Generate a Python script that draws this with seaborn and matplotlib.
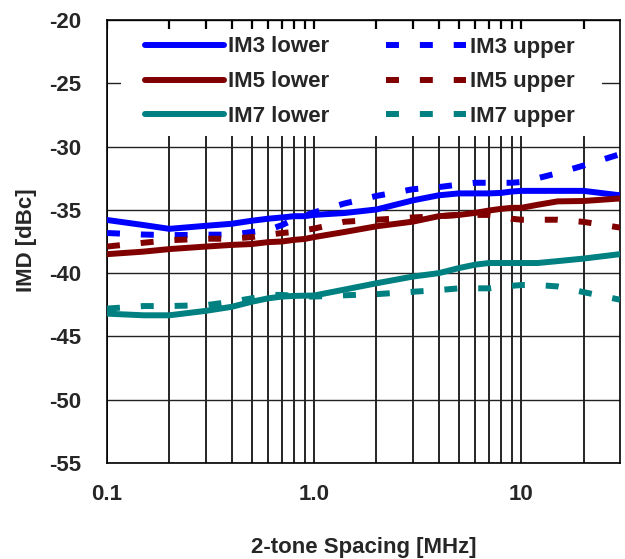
import matplotlib
matplotlib.use("Agg")
import matplotlib.pyplot as plt
import matplotlib.patches as mpatches
from matplotlib.ticker import FixedLocator, NullFormatter, FixedFormatter
import seaborn as sns
import numpy as np
import pandas as pd

# ---------------- data ----------------
spacing_mhz = [0.1, 0.15, 0.2, 0.3, 0.4, 0.5, 0.6, 0.7, 0.8, 0.9, 1.0, 1.4,
               2, 3, 4, 5, 6, 7, 8, 9, 10, 12, 15, 20, 30]

im3_lower = [-35.8, -36.2, -36.5, -36.26, -36.1, -35.86, -35.7, -35.6, -35.5, -35.5, -35.4, -35.25,
             -34.97, -34.25, -33.85, -33.7, -33.7, -33.7, -33.66, -33.55, -33.5, -33.5, -33.5, -33.5, -33.85]
im3_upper = [-36.83, -36.95, -37.0, -36.96, -36.96, -36.75, -36.6, -36.2, -35.75, -35.45, -35.2, -34.5,
             -33.9, -33.37, -33.2, -33.0, -32.86, -32.86, -32.86, -32.86, -32.8, -32.5, -32.1, -31.5, -30.6]
im5_lower = [-38.5, -38.3, -38.1, -37.9, -37.77, -37.7, -37.55, -37.5, -37.37, -37.3, -37.15, -36.75,
             -36.3, -35.93, -35.5, -35.4, -35.24, -35.05, -34.92, -34.84, -34.84, -34.6, -34.33, -34.3, -34.1]
im5_upper = [-37.9, -37.6, -37.4, -37.28, -37.28, -37.15, -36.96, -36.83, -36.75, -36.6, -36.48, -35.94,
             -35.78, -35.6, -35.5, -35.4, -35.4, -35.4, -35.5, -35.7, -35.78, -35.78, -35.78, -35.95, -36.4]
im7_lower = [-43.2, -43.33, -43.33, -42.98, -42.66, -42.26, -41.99, -41.85, -41.8, -41.78, -41.77, -41.3,
             -40.8, -40.27, -40.0, -39.6, -39.33, -39.2, -39.2, -39.2, -39.2, -39.2, -39.05, -38.85, -38.5]
im7_upper = [-42.8, -42.6, -42.6, -42.53, -42.26, -41.99, -41.72, -41.72, -41.8, -41.85, -41.85, -41.75,
             -41.66, -41.47, -41.34, -41.2, -41.2, -41.2, -41.07, -41.0, -40.94, -40.94, -41.05, -41.5, -42.1]

series_names = ["IM3 lower", "IM5 lower", "IM7 lower", "IM3 upper", "IM5 upper", "IM7 upper"]
series_values = [im3_lower, im5_lower, im7_lower, im3_upper, im5_upper, im7_upper]
series_colors = ["#0000FF", "#800000", "#008080", "#0000FF", "#800000", "#008080"]
series_dashed = [False, False, False, True, True, True]

x_major = [0.1, 1.0, 10]
x_major_labels = ["0.1", "1.0", "10"]
y_ticks = [-55, -50, -45, -40, -35, -30, -25, -20]

# ---------------- style ----------------
sns.set_style("white")
plt.rcParams["font.family"] = ["Liberation Sans", "DejaVu Sans"]
plt.rcParams["font.weight"] = "bold"

FS = 16
fig = plt.figure(figsize=(6.25, 5.59), dpi=100)
ax = fig.add_axes([107 / 625, (559 - 463) / 559, (620 - 107) / 625, 443 / 559])

LW = 4.3
dash_pattern = (2.17, 3.5)
handles = []
for name, vals, col, dashed in zip(series_names, series_values, series_colors, series_dashed):
    df = pd.DataFrame({"x": spacing_mhz, "y": vals})
    sns.lineplot(data=df, x="x", y="y", ax=ax, color=col, linewidth=LW,
                 legend=False, sort=True, estimator=None)
    line = ax.lines[-1]
    line.set_label(name)
    line.set_zorder(3)
    if dashed:
        line.set_dashes(dash_pattern)
        line.set_dash_capstyle("butt")
    handles.append(line)

ax.set_xscale("log")
ax.set_xlim(0.1, 30)
ax.set_ylim(-55, -20)

ax.xaxis.set_major_locator(FixedLocator(x_major))
ax.xaxis.set_major_formatter(FixedFormatter(x_major_labels))
minor = [m * d for d in (0.1, 1, 10) for m in range(2, 10) if m * d < 30]
ax.xaxis.set_minor_locator(FixedLocator(minor))
ax.xaxis.set_minor_formatter(NullFormatter())
ax.set_yticks(y_ticks)
ax.set_yticklabels([str(v) for v in y_ticks])

ax.set_axisbelow(True)
ax.grid(which="both", axis="x", color="black", linewidth=1.2)
ax.grid(which="major", axis="y", color="#222222", linewidth=1.0)

ax.tick_params(axis="x", which="both", direction="in", top=False, bottom=False,
               labelsize=FS, pad=15)
ax.tick_params(axis="y", which="both", left=False, right=False, labelsize=FS, pad=15)
for lab in ax.get_xticklabels() + ax.get_yticklabels():
    lab.set_fontweight("bold")

for s in ax.spines.values():
    s.set_color("black")
    s.set_linewidth(1.2)
    s.set_visible(True)

ax.set_xlabel("2-tone Spacing [MHz]", fontsize=FS, fontweight="bold")
ax.set_ylabel("IMD [dBc]", fontsize=FS, fontweight="bold")
ax.xaxis.set_label_coords(0.5, -0.167)
ax.yaxis.set_label_coords(-0.136, 0.503)

# white area behind the legend (starts just below the top tick marks)
bg_top = 1 - (29 - 20) / 443
bg_bottom = 1 - (136 - 20) / 443
bg = mpatches.Rectangle((0.0273, bg_bottom), 0.965 - 0.0273, bg_top - bg_bottom,
                        transform=ax.transAxes, facecolor="white", edgecolor="none", zorder=2)
ax.add_patch(bg)

# top inward tick marks drawn above the white area
for xv in x_major + minor:
    ax.plot([xv, xv], [1.0, 1 - 9 / 443], transform=ax.get_xaxis_transform(),
            color="black", linewidth=1.6, zorder=2.5, solid_capstyle="butt")

leg = ax.legend(handles=handles, labels=series_names, ncol=2, loc="upper left",
                bbox_to_anchor=((145 - 107) / 513, 1 - (36.5 - 20) / 443),
                frameon=False, borderaxespad=0, borderpad=0,
                handlelength=3.56, handletextpad=0.18, columnspacing=2.57,
                labelspacing=0.62, prop={"size": FS, "weight": "bold"})
leg.set_zorder(5)

fig.savefig("out.png", dpi=100)
